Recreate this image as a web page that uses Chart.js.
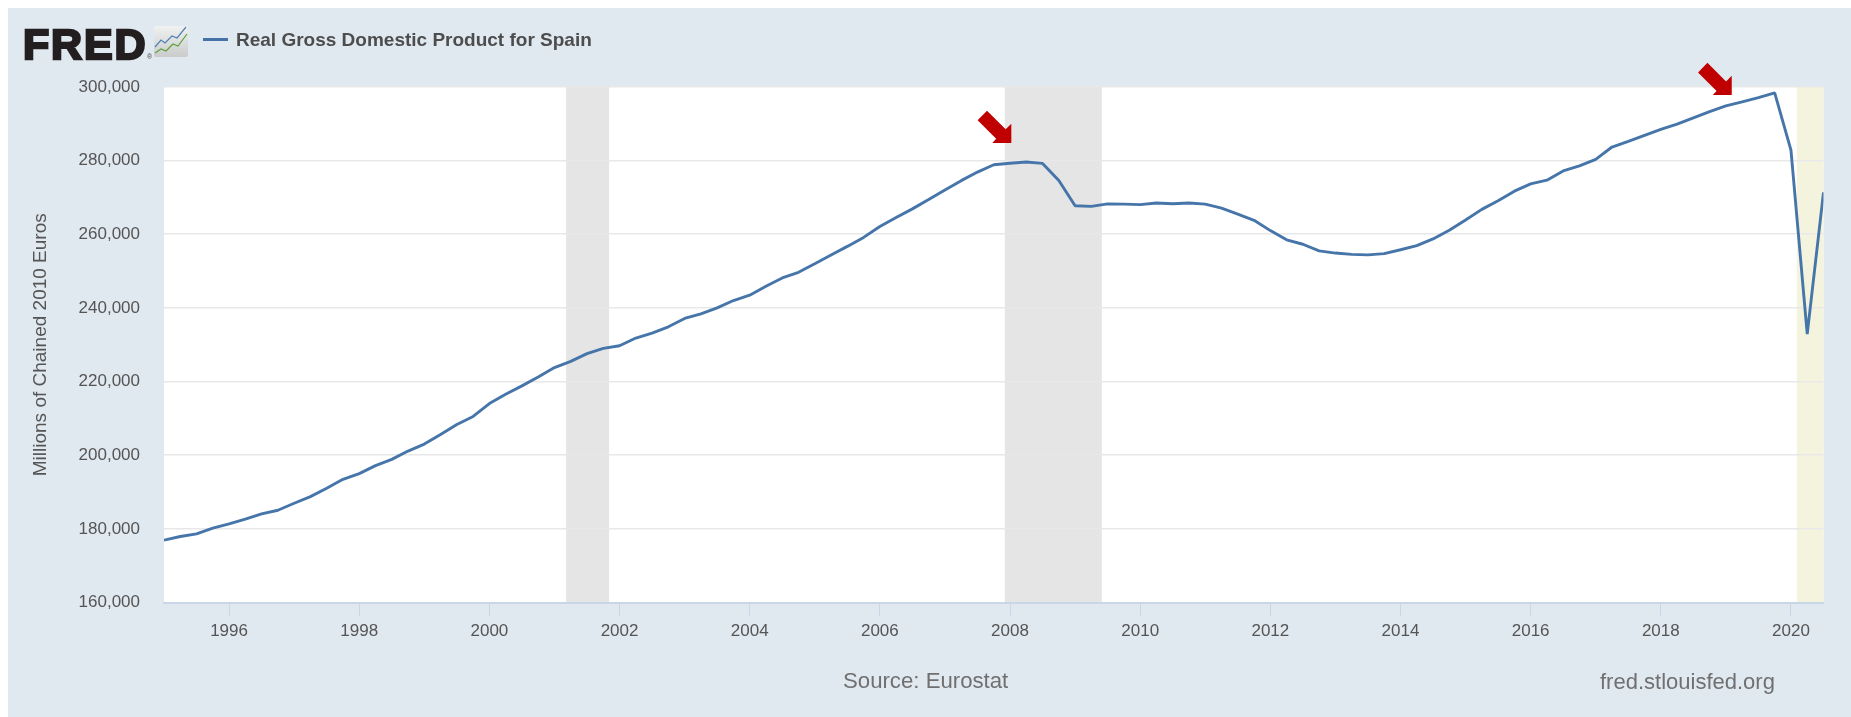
<!DOCTYPE html>
<html>
<head>
<meta charset="utf-8">
<title>Real Gross Domestic Product for Spain</title>
<script src="https://cdn.jsdelivr.net/npm/chart.js@4"></script>
<style>
html,body{margin:0;padding:0;background:#fff;overflow:hidden;width:1851px;height:717px}
#panel{position:absolute;left:8px;top:8px;width:1843px;height:709px;background:#e0e8f0}
canvas{position:absolute;left:0;top:0}
.t{position:absolute;white-space:nowrap;font-family:"Liberation Sans",Arial,sans-serif;line-height:1}
</style>
</head>
<body>
<div id="panel">
  <canvas id="c" width="1843" height="709"></canvas>
  <span class="t" style="left:15px;top:15px;font-size:43px;font-weight:700;color:#231f20;-webkit-text-stroke:2.4px #231f20;letter-spacing:1.8px">FRED</span>
  <span class="t" style="left:139px;top:45px;font-size:7px;color:#444">®</span>
  <svg style="position:absolute;left:146px;top:18px" width="34" height="31" viewBox="0 0 34 31">
    <defs><linearGradient id="g" x1="0" y1="0" x2="0" y2="1"><stop offset="0" stop-color="#f0f2f2"/><stop offset="1" stop-color="#c9cccb"/></linearGradient></defs>
    <rect width="34" height="31" rx="2" fill="url(#g)"/>
    <polyline points="1,21 7,14 11,17 18,10 23,12 32,1" fill="none" stroke="#4f81b5" stroke-width="1.2"/>
    <polyline points="1,27 7,23 12,25 19,18 24,20 33,8" fill="none" stroke="#5fa03c" stroke-width="1.2"/>
  </svg>
  <span style="position:absolute;left:195px;top:29.5px;width:25px;height:3px;background:#4572a7"></span>
  <span class="t" id="legendText" style="left:228px;top:21.5px;font-size:19px;font-weight:700;color:#4d4d4d"></span>
  <span class="t" style="left:835px;top:662px;font-size:22.2px;color:#707070">Source: Eurostat</span>
  <span class="t" style="left:1592px;top:663px;font-size:22px;color:#707070">fred.stlouisfed.org</span>
</div>
<script>
const seriesName = 'Real Gross Domestic Product for Spain';
const yAxisTitle = 'Millions of Chained 2010 Euros';
const firstYear = 1995;
const lastYear = 2020.5;
const xTickYears = [1996,1998,2000,2002,2004,2006,2008,2010,2012,2014,2016,2018,2020];
const gdpValues = [
176930,177920,178650,180180,181350,182620,184060,185060,186950,188760,
191020,193450,195000,197160,198870,201130,203030,205650,208350,210520,
214040,216570,218830,221270,223800,225500,227580,229020,229740,231820,
233170,234880,237140,238400,240020,242010,243450,245890,248140,249680,
252020,254370,256710,259150,262120,264560,266900,269430,272050,274570,
276900,278880,279300,279650,279250,274600,267750,267570,268250,268200,
268050,268500,268300,268500,268200,267100,265500,263800,261000,258500,
257300,255500,254900,254550,254400,254750,255800,256940,258740,261080,
263870,266760,269100,271710,273700,274690,277210,278560,280360,283700,
285230,286850,288470,289910,291630,293340,294870,295950,297120,298380,
282880,232900,271400];
const recessionStart = [2001.18, 2007.92];
const recessionEnd = [2001.84, 2009.41];
const covidStart = [2020.09];
const covidEnd = [2020.5];
const arrowYears = [2008.02, 2019.09];
const arrowValues = [284800, 297800];

document.getElementById('legendText').textContent = seriesName;

const points = gdpValues.map((v,i)=>({x:firstYear+i/4,y:v}));

const bands = {
  id:'bands',
  beforeDraw(chart){
    const {ctx,chartArea:a,scales:{x}} = chart;
    ctx.save();
    ctx.fillStyle='#fff';
    ctx.fillRect(a.left,a.top,a.width,a.height);
    ctx.fillStyle='#e5e5e5';
    recessionStart.forEach((s,i)=>{
      const l=x.getPixelForValue(s),r=x.getPixelForValue(recessionEnd[i]);
      ctx.fillRect(l,a.top,r-l,a.height);
    });
    ctx.fillStyle='#f4f4de';
    covidStart.forEach((s,i)=>{
      const l=x.getPixelForValue(s),r=x.getPixelForValue(covidEnd[i]);
      ctx.fillRect(l,a.top,r-l,a.height);
    });
    ctx.restore();
  }
};
const arrows = {
  id:'arrows',
  afterDraw(chart){
    const {ctx,scales:{x,y}} = chart;
    ctx.save();
    ctx.fillStyle='#c00000';
    arrowYears.forEach((yr,i)=>{
      const px=x.getPixelForValue(yr),py=y.getPixelForValue(arrowValues[i]);
      const shape=[[0,0],[0,-19.3],[-5.65,-13.65],[-24.3,-32.3],[-33.7,-22.7],[-15.15,-4.15],[-19,0]];
      ctx.beginPath();
      shape.forEach(([dx,dy],k)=>k?ctx.lineTo(px+dx,py+dy):ctx.moveTo(px+dx,py+dy));
      ctx.closePath();
      ctx.fill();
    });
    ctx.restore();
  }
};

new Chart(document.getElementById('c'),{
  type:'line',
  data:{datasets:[{label:seriesName,data:points,borderColor:'#4675aa',borderWidth:2.9,pointRadius:0,tension:0,fill:false,borderJoinStyle:'bevel'}]},
  plugins:[bands,arrows],
  options:{
    responsive:false,
    animation:false,
    parsing:false,
    layout:{padding:{top:79,right:27.5,bottom:0,left:0}},
    plugins:{legend:{display:false},title:{display:false},tooltip:{enabled:false}},
    scales:{
      x:{
        type:'linear',min:firstYear,max:lastYear,
        afterBuildTicks(ax){ax.ticks=xTickYears.map(v=>({value:v}));},
        afterFit(ax){ax.height=114.5;},
        grid:{drawOnChartArea:false,drawTicks:true,tickLength:14,tickColor:'#c8d6e8',tickWidth:1},
        border:{color:'#c8d6e8',width:2},
        ticks:{autoSkip:false,maxRotation:0,padding:5,color:'#555',font:{family:'"Liberation Sans"',size:17},callback:v=>String(v)}
      },
      y:{
        type:'linear',min:160000,max:300000,
        afterFit(ax){ax.width=156;},
        grid:{color:'#e8e8e8',lineWidth:1.6,drawTicks:false},
        border:{display:false},
        ticks:{stepSize:20000,padding:24,color:'#555',font:{family:'"Liberation Sans"',size:17},callback:v=>v.toLocaleString('en-US')},
        title:{display:true,text:yAxisTitle,color:'#555',font:{family:'"Liberation Sans"',size:19},padding:{top:21,bottom:0}}
      }
    }
  }
});
</script>
</body>
</html>
